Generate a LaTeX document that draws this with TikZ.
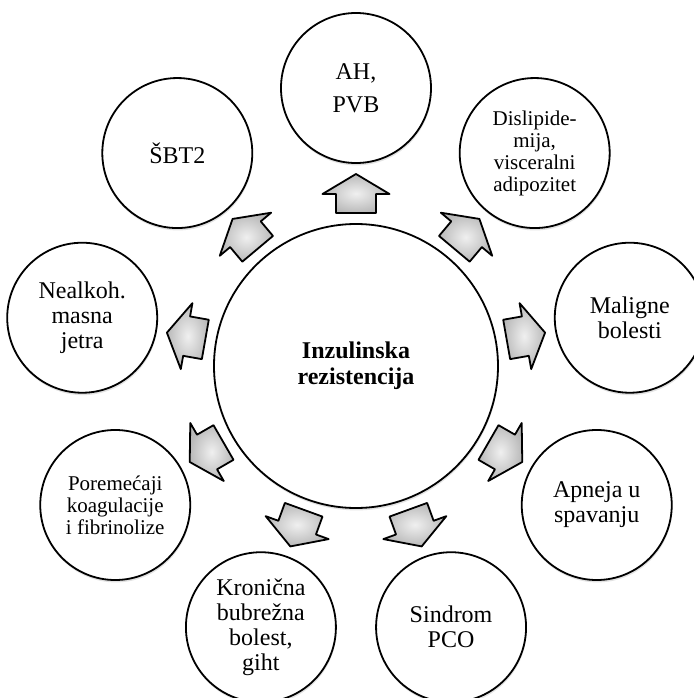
\documentclass[tikz,border=0pt]{standalone}
\usepackage{fontspec}
\setmainfont{Liberation Serif}
\usetikzlibrary{shadows}

\begin{document}
\begin{tikzpicture}[
    x=0.5pt, y=0.5pt,
    every node/.style={font=\fontsize{12}{12.5}\selectfont},
    bubble/.style={
      circle, draw, line width=0.9pt, fill=white,
      minimum size=75pt, inner sep=0pt, align=center,
      drop shadow={fill=black!45, opacity=0.25, shadow xshift=0.3pt, shadow yshift=-1.2pt}
    },
    hub/.style={
      bubble, minimum size=142pt,
      font=\fontsize{12}{13}\selectfont\bfseries
    },
    smalltext/.style={font=\fontsize{10.5}{11}\selectfont},
    blockarr/.style={
      draw, line width=0.9pt, line join=round,
      inner color=gray!12, outer color=gray!55
    }
  ]

  \useasboundingbox (-356,-332) rectangle (338,366);

  % Centre
  \node[hub] (ir) at (0,0) {Inzulinska\\rezistencija};

  % Outer circles
  \node[bubble, font=\fontsize{12}{16.5}\selectfont] (ah) at (90:278) {AH,\\PVB};
  \node[bubble, smalltext] (dislip) at (50:278) {Dislipide-\\mija,\\visceralni\\adipozitet};
  \node[bubble] (maligne) at (10:278) {Maligne\\bolesti};
  \node[bubble] (apneja) at (-30:278) {Apneja u\\spavanju};
  \node[bubble] (pco) at (-70:278) {Sindrom\\PCO};
  \node[bubble] (kronicna) at (-110:278) {Kronična\\bubrežna\\bolest,\\giht};
  \node[bubble, smalltext] (poremecaji) at (-150:278) {Poremećaji\\koagulacije\\i fibrinolize};
  \node[bubble] (nealkoh) at (170:278) {Nealkoh.\\masna\\jetra};
  \node[bubble] (sbt) at (130:278) {ŠBT2};

  % Block arrows
  \foreach \a in {90,50,10,-30,-70,-110,-150,170,130}
    \draw[blockarr, rotate=\a] (153,-20) -- (172,-20) -- (172,-33.5) -- (192,0)
      -- (172,33.5) -- (172,20) -- (153,20) -- cycle;

\end{tikzpicture}
\end{document}
